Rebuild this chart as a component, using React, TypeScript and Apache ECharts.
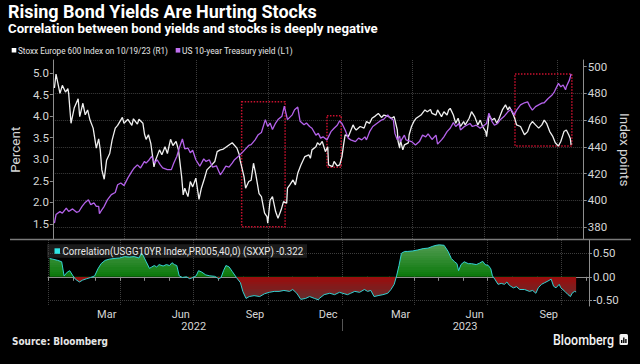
import React, { useEffect, useRef } from 'react';
import * as echarts from 'echarts';

// ---------- data ----------
const startDate = '2022-01-01';
const endDate = '2023-11-04';

const stoxx: [string, number][] = [
  ['2022-01-03', 484], ['2022-01-05', 494.5], ['2022-01-10', 480], ['2022-01-13', 486], ['2022-01-17', 481],
  ['2022-01-20', 483.5], ['2022-01-21', 480], ['2022-01-24', 457.6], ['2022-01-28', 469], ['2022-02-02', 476],
  ['2022-02-04', 462.6], ['2022-02-08', 472.6], ['2022-02-11', 464], ['2022-02-14', 467.6], ['2022-02-17', 460],
  ['2022-02-21', 454], ['2022-02-25', 439], ['2022-02-28', 446], ['2022-03-02', 437.7], ['2022-03-04', 422.7],
  ['2022-03-07', 415.7], ['2022-03-10', 430], ['2022-03-14', 435], ['2022-03-17', 445], ['2022-03-21', 454],
  ['2022-03-24', 456], ['2022-03-30', 462], ['2022-04-01', 457.6], ['2022-04-06', 460.6], ['2022-04-11', 456],
  ['2022-04-13', 461], ['2022-04-18', 457], ['2022-04-20', 460.6], ['2022-04-25', 457.6], ['2022-04-27', 449.6],
  ['2022-04-29', 445.6], ['2022-05-02', 449], ['2022-05-05', 442.6], ['2022-05-09', 425], ['2022-05-11', 430],
  ['2022-05-16', 437.7], ['2022-05-19', 434], ['2022-05-23', 440], ['2022-05-26', 435], ['2022-05-30', 445.6],
  ['2022-06-02', 441], ['2022-06-06', 444], ['2022-06-09', 437.7], ['2022-06-13', 417.7], ['2022-06-15', 404],
  ['2022-06-17', 409], ['2022-06-21', 402.7], ['2022-06-24', 414], ['2022-06-27', 410], ['2022-07-01', 416.5],
  ['2022-07-05', 400.7], ['2022-07-08', 409], ['2022-07-12', 416.5], ['2022-07-15', 422.7], ['2022-07-20', 425.7],
  ['2022-07-25', 429], ['2022-07-28', 436.4], ['2022-08-01', 437.7], ['2022-08-04', 438], ['2022-08-08', 439.7],
  ['2022-08-12', 441.4], ['2022-08-16', 443], ['2022-08-22', 439], ['2022-08-25', 434], ['2022-08-26', 430],
  ['2022-08-31', 417.7], ['2022-09-02', 409], ['2022-09-06', 414], ['2022-09-09', 415], ['2022-09-12', 427.7],
  ['2022-09-15', 419], ['2022-09-19', 405], ['2022-09-22', 402.7], ['2022-09-26', 390.3], ['2022-09-29', 387.8],
  ['2022-09-30', 382.8], ['2022-10-03', 400], ['2022-10-06', 402.7], ['2022-10-10', 391.5], ['2022-10-13', 386.5],
  ['2022-10-17', 392.8], ['2022-10-20', 399], ['2022-10-24', 397.8], ['2022-10-25', 409], ['2022-10-28', 411.5],
  ['2022-11-01', 415.2], ['2022-11-04', 411.5], ['2022-11-07', 420.2], ['2022-11-11', 426.4], ['2022-11-16', 432.7],
  ['2022-11-21', 434], ['2022-11-23', 431.4], ['2022-11-25', 437.7], ['2022-11-30', 440], ['2022-12-02', 443],
  ['2022-12-05', 441.4], ['2022-12-08', 444], ['2022-12-12', 436.4], ['2022-12-15', 440], ['2022-12-16', 426.4],
  ['2022-12-21', 425.2], ['2022-12-23', 429], ['2022-12-27', 425.7], ['2022-12-30', 426.4], ['2023-01-02', 432.7],
  ['2023-01-04', 441.4], ['2023-01-06', 449], ['2023-01-10', 447.6], ['2023-01-16', 456.4], ['2023-01-18', 454],
  ['2023-01-20', 452.6], ['2023-01-25', 455.2], ['2023-01-30', 454], ['2023-02-02', 458.9], ['2023-02-06', 457.6],
  ['2023-02-09', 461.4], ['2023-02-13', 463], ['2023-02-17', 465], ['2023-02-21', 462], ['2023-02-24', 463.8],
  ['2023-03-01', 463], ['2023-03-06', 461.4], ['2023-03-09', 462.6], ['2023-03-13', 452.6], ['2023-03-14', 444],
  ['2023-03-16', 439], ['2023-03-17', 445], ['2023-03-20', 437.7], ['2023-03-22', 441.4], ['2023-03-27', 443],
  ['2023-03-28', 449], ['2023-03-31', 455.2], ['2023-04-03', 459], ['2023-04-06', 461.4], ['2023-04-12', 463.8],
  ['2023-04-17', 467.6], ['2023-04-20', 466.3], ['2023-04-24', 468], ['2023-04-26', 465], ['2023-05-01', 463.8],
  ['2023-05-03', 467.6], ['2023-05-08', 462.6], ['2023-05-11', 466.3], ['2023-05-15', 463.8], ['2023-05-17', 467.6],
  ['2023-05-19', 468.8], ['2023-05-23', 463.8], ['2023-05-26', 457.6], ['2023-05-29', 461.4], ['2023-06-01', 455.2],
  ['2023-06-05', 458.9], ['2023-06-07', 456.4], ['2023-06-12', 461.4], ['2023-06-15', 466.3], ['2023-06-19', 462.6],
  ['2023-06-23', 456.4], ['2023-06-26', 460], ['2023-06-29', 455.2], ['2023-07-03', 451.4], ['2023-07-04', 447.6],
  ['2023-07-06', 456.4], ['2023-07-07', 463.8], ['2023-07-11', 460], ['2023-07-14', 461.4], ['2023-07-17', 457.6],
  ['2023-07-20', 461.4], ['2023-07-24', 467.6], ['2023-07-28', 471.4], ['2023-07-31', 467.6], ['2023-08-02', 470],
  ['2023-08-07', 463.8], ['2023-08-09', 460.6], ['2023-08-11', 456.4], ['2023-08-16', 455.2], ['2023-08-21', 449],
  ['2023-08-25', 451.4], ['2023-08-28', 456.4], ['2023-08-31', 458.9], ['2023-09-04', 456.4], ['2023-09-08', 454],
  ['2023-09-12', 456.4], ['2023-09-15', 460], ['2023-09-18', 457.6], ['2023-09-22', 451.4], ['2023-09-26', 447.6],
  ['2023-09-29', 443], ['2023-10-03', 440.6], ['2023-10-06', 444], ['2023-10-10', 451.4], ['2023-10-13', 452.6],
  ['2023-10-16', 449], ['2023-10-18', 446.3], ['2023-10-19', 441.4],
];

const usYield: [string, number][] = [
  ['2022-01-03', 1.52], ['2022-01-05', 1.72], ['2022-01-10', 1.79], ['2022-01-13', 1.75], ['2022-01-18', 1.87],
  ['2022-01-21', 1.79], ['2022-01-26', 1.85], ['2022-01-31', 1.77], ['2022-02-03', 1.79], ['2022-02-07', 1.91],
  ['2022-02-11', 2.0], ['2022-02-15', 2.06], ['2022-02-18', 1.95], ['2022-02-22', 1.99], ['2022-02-25', 1.91],
  ['2022-02-28', 1.91], ['2022-03-01', 1.74], ['2022-03-04', 1.83], ['2022-03-07', 1.91], ['2022-03-11', 2.06],
  ['2022-03-16', 2.18], ['2022-03-21', 2.23], ['2022-03-24', 2.41], ['2022-03-28', 2.45], ['2022-04-01', 2.39],
  ['2022-04-06', 2.57], ['2022-04-11', 2.72], ['2022-04-14', 2.8], ['2022-04-18', 2.87], ['2022-04-22', 2.8],
  ['2022-04-27', 2.95], ['2022-04-29', 2.91], ['2022-05-03', 2.99], ['2022-05-06', 3.07], ['2022-05-10', 2.91],
  ['2022-05-13', 2.99], ['2022-05-17', 2.87], ['2022-05-20', 2.8], ['2022-05-26', 2.76], ['2022-05-31', 2.76],
  ['2022-06-03', 2.91], ['2022-06-07', 3.07], ['2022-06-10', 3.26], ['2022-06-14', 3.47], ['2022-06-17', 3.24],
  ['2022-06-21', 3.26], ['2022-06-24', 3.15], ['2022-06-27', 3.21], ['2022-07-01', 2.99], ['2022-07-06', 2.84],
  ['2022-07-11', 3.01], ['2022-07-14', 2.95], ['2022-07-18', 2.99], ['2022-07-22', 2.82], ['2022-07-27', 2.85],
  ['2022-08-01', 2.64], ['2022-08-04', 2.72], ['2022-08-08', 2.84], ['2022-08-12', 2.82], ['2022-08-16', 2.91],
  ['2022-08-19', 2.99], ['2022-08-24', 3.07], ['2022-08-29', 3.16], ['2022-09-02', 3.24], ['2022-09-06', 3.32],
  ['2022-09-09', 3.34], ['2022-09-14', 3.45], ['2022-09-18', 3.57], ['2022-09-22', 3.62], ['2022-09-27', 3.92],
  ['2022-09-30', 3.76], ['2022-10-03', 3.84], ['2022-10-06', 3.69], ['2022-10-10', 3.84], ['2022-10-13', 3.92],
  ['2022-10-18', 4.0], ['2022-10-21', 4.23], ['2022-10-25', 3.92], ['2022-10-31', 4.03], ['2022-11-03', 4.15],
  ['2022-11-07', 4.21], ['2022-11-10', 3.88], ['2022-11-15', 3.8], ['2022-11-18', 3.84], ['2022-11-22', 3.76],
  ['2022-11-25', 3.72], ['2022-11-30', 3.56], ['2022-12-03', 3.6], ['2022-12-06', 3.49], ['2022-12-09', 3.52],
  ['2022-12-14', 3.45], ['2022-12-19', 3.64], ['2022-12-23', 3.72], ['2022-12-27', 3.79], ['2022-12-30', 3.89],
  ['2023-01-02', 3.83], ['2023-01-06', 3.68], ['2023-01-10', 3.49], ['2023-01-13', 3.45], ['2023-01-19', 3.41],
  ['2023-01-23', 3.49], ['2023-01-27', 3.45], ['2023-01-31', 3.52], ['2023-02-02', 3.45], ['2023-02-06', 3.64],
  ['2023-02-10', 3.76], ['2023-02-15', 3.83], ['2023-02-21', 3.91], ['2023-02-24', 3.93], ['2023-03-01', 4.03],
  ['2023-03-03', 3.97], ['2023-03-08', 3.91], ['2023-03-10', 3.6], ['2023-03-13', 3.45], ['2023-03-16', 3.54],
  ['2023-03-17', 3.41], ['2023-03-22', 3.56], ['2023-03-24', 3.45], ['2023-03-31', 3.41], ['2023-04-05', 3.33],
  ['2023-04-10', 3.41], ['2023-04-14', 3.56], ['2023-04-18', 3.52], ['2023-04-21', 3.59], ['2023-04-26', 3.46],
  ['2023-05-01', 3.56], ['2023-05-03', 3.35], ['2023-05-08', 3.45], ['2023-05-11', 3.52], ['2023-05-15', 3.64],
  ['2023-05-19', 3.72], ['2023-05-23', 3.85], ['2023-05-26', 3.76], ['2023-05-30', 3.83], ['2023-06-01', 3.68],
  ['2023-06-06', 3.76], ['2023-06-09', 3.79], ['2023-06-13', 3.83], ['2023-06-16', 3.76], ['2023-06-21', 3.79],
  ['2023-06-26', 3.72], ['2023-06-29', 3.76], ['2023-07-04', 3.83], ['2023-07-07', 4.07], ['2023-07-11', 3.87],
  ['2023-07-14', 3.79], ['2023-07-18', 3.83], ['2023-07-21', 3.91], ['2023-07-26', 3.99], ['2023-07-31', 4.1],
  ['2023-08-04', 4.16], ['2023-08-08', 4.03], ['2023-08-11', 4.14], ['2023-08-16', 4.26], ['2023-08-21', 4.31],
  ['2023-08-25', 4.33], ['2023-08-28', 4.22], ['2023-08-31', 4.14], ['2023-09-04', 4.22], ['2023-09-08', 4.26],
  ['2023-09-12', 4.3], ['2023-09-15', 4.31], ['2023-09-20', 4.41], ['2023-09-25', 4.49], ['2023-09-28', 4.57],
  ['2023-10-03', 4.76], ['2023-10-06', 4.68], ['2023-10-09', 4.72], ['2023-10-12', 4.61], ['2023-10-13', 4.68],
  ['2023-10-17', 4.84], ['2023-10-19', 4.98],
];

const correlation: [string, number][] = [
  ['2022-01-03', 0.39], ['2022-01-07', 0.375], ['2022-01-13', 0.35], ['2022-01-18', 0.32], ['2022-01-21', 0.02],
  ['2022-01-25', 0.1], ['2022-01-28', 0.13], ['2022-02-01', 0.02], ['2022-02-04', -0.05], ['2022-02-09', -0.11],
  ['2022-02-13', -0.07], ['2022-02-18', -0.04], ['2022-02-23', -0.015], ['2022-02-28', 0.02], ['2022-03-04', 0.17],
  ['2022-03-08', 0.28], ['2022-03-13', 0.35], ['2022-03-18', 0.375], ['2022-03-24', 0.39], ['2022-03-31', 0.4],
  ['2022-04-06', 0.43], ['2022-04-12', 0.42], ['2022-04-18', 0.43], ['2022-04-24', 0.4], ['2022-04-27', 0.5],
  ['2022-04-29', 0.46], ['2022-05-03', 0.32], ['2022-05-07', 0.18], ['2022-05-10', 0.21], ['2022-05-13', 0.24],
  ['2022-05-16', 0.21], ['2022-05-19', 0.26], ['2022-05-24', 0.23], ['2022-05-28', 0.26], ['2022-06-01', 0.24],
  ['2022-06-04', 0.3], ['2022-06-07', 0.26], ['2022-06-10', 0.24], ['2022-06-13', 0.02], ['2022-06-17', -0.015],
  ['2022-06-22', 0.0], ['2022-06-26', -0.04], ['2022-06-30', -0.015], ['2022-07-04', 0.02], ['2022-07-07', 0.13],
  ['2022-07-11', 0.1], ['2022-07-16', 0.04], ['2022-07-21', 0.02], ['2022-07-27', 0.01], ['2022-08-01', -0.04],
  ['2022-08-04', -0.015], ['2022-08-07', 0.13], ['2022-08-10', 0.24], ['2022-08-14', 0.21], ['2022-08-18', 0.11],
  ['2022-08-23', -0.015], ['2022-08-28', -0.125], ['2022-08-31', -0.31], ['2022-09-04', -0.46], ['2022-09-08', -0.42],
  ['2022-09-14', -0.4], ['2022-09-21', -0.42], ['2022-09-27', -0.36], ['2022-10-03', -0.33], ['2022-10-09', -0.31],
  ['2022-10-15', -0.31], ['2022-10-21', -0.29], ['2022-10-28', -0.31], ['2022-11-01', -0.27], ['2022-11-06', -0.35],
  ['2022-11-11', -0.48], ['2022-11-17', -0.46], ['2022-11-22', -0.42], ['2022-11-28', -0.46], ['2022-12-03', -0.49],
  ['2022-12-04', -0.46], ['2022-12-10', -0.38], ['2022-12-17', -0.35], ['2022-12-23', -0.38], ['2022-12-29', -0.33],
  ['2023-01-04', -0.36], ['2023-01-08', -0.38], ['2023-01-12', -0.35], ['2023-01-17', -0.31], ['2023-01-23', -0.33],
  ['2023-01-29', -0.27], ['2023-02-02', -0.31], ['2023-02-06', -0.29], ['2023-02-10', -0.42], ['2023-02-15', -0.4],
  ['2023-02-21', -0.38], ['2023-02-27', -0.35], ['2023-03-03', -0.27], ['2023-03-07', -0.16], ['2023-03-10', 0.02],
  ['2023-03-13', 0.24], ['2023-03-16', 0.5], ['2023-03-20', 0.54], ['2023-03-24', 0.54], ['2023-03-30', 0.55],
  ['2023-04-05', 0.57], ['2023-04-12', 0.6], ['2023-04-18', 0.61], ['2023-04-24', 0.65], ['2023-04-28', 0.67],
  ['2023-05-02', 0.68], ['2023-05-08', 0.67], ['2023-05-13', 0.54], ['2023-05-17', 0.39], ['2023-05-21', 0.32],
  ['2023-05-24', 0.28], ['2023-05-26', 0.13], ['2023-05-29', 0.26], ['2023-06-02', 0.32], ['2023-06-07', 0.28],
  ['2023-06-11', 0.28], ['2023-06-17', 0.26], ['2023-06-21', 0.29], ['2023-06-25', 0.33], ['2023-06-28', 0.26],
  ['2023-07-02', 0.24], ['2023-07-05', 0.17], ['2023-07-07', 0.02], ['2023-07-10', -0.05], ['2023-07-14', -0.16],
  ['2023-07-18', -0.14], ['2023-07-22', -0.16], ['2023-07-25', -0.11], ['2023-07-28', -0.18], ['2023-08-02', -0.235],
  ['2023-08-06', -0.21], ['2023-08-10', -0.27], ['2023-08-16', -0.27], ['2023-08-22', -0.31], ['2023-08-26', -0.29],
  ['2023-08-30', -0.35], ['2023-09-02', -0.235], ['2023-09-06', -0.16], ['2023-09-10', -0.125], ['2023-09-14', -0.09],
  ['2023-09-18', -0.05], ['2023-09-21', -0.2], ['2023-09-24', -0.235], ['2023-09-28', -0.16], ['2023-09-30', -0.235],
  ['2023-10-05', -0.31], ['2023-10-09', -0.38], ['2023-10-12', -0.42], ['2023-10-14', -0.35], ['2023-10-17', -0.31],
  ['2023-10-19', -0.322],
];

const yieldTicks = [1.5, 2.0, 2.5, 3.0, 3.5, 4.0, 4.5, 5.0];
const indexTicks = [380, 400, 420, 440, 460, 480, 500];
const corrTicks = [-0.5, 0, 0.5];
const monthLabels: Record<string, string> = {
  '2022-03-15': 'Mar', '2022-06-15': 'Jun', '2022-09-15': 'Sep', '2022-12-15': 'Dec',
  '2023-03-15': 'Mar', '2023-06-15': 'Jun', '2023-09-15': 'Sep',
};
const yearLabels: Record<string, string> = { '2022-07-01': '2022', '2023-06-03': '2023' };
const yearBreak = '2023-01-01';

// highlighted windows (dates, index points)
const highlightBoxes: [string, number, string, number][] = [
  ['2022-08-28', 473.8, '2022-10-22', 380.2],
  ['2022-12-14', 463.3, '2023-01-01', 424.7],
  ['2023-08-09', 494.5, '2023-10-20', 440.6],
];

const legendStoxx = 'Stoxx Europe 600 Index on 10/19/23 (R1)';
const legendYield = 'US 10-year Treasury yield (L1)';
const legendCorr = 'Correlation(USGG10YR Index,PR005,40,0) (SXXP) -0.322';

// ---------- helpers ----------
function buildDays(from: string, to: string): string[] {
  const out: string[] = [];
  const a = Date.parse(from + 'T00:00:00Z');
  const b = Date.parse(to + 'T00:00:00Z');
  for (let t = a; t <= b; t += 86400000) out.push(new Date(t).toISOString().slice(0, 10));
  return out;
}
const days = buildDays(startDate, endDate);
const isQuarterStart = (v: string) => /-(01|04|07|10)-01$/.test(v);

let measureCtx: CanvasRenderingContext2D | null = null;
function measure(text: string, font: string): number {
  if (!measureCtx) measureCtx = document.createElement('canvas').getContext('2d');
  if (!measureCtx) return text.length * 6;
  measureCtx.font = font;
  return measureCtx.measureText(text).width;
}
function fitText(text: string, x: number, y: number, width: number, size: number, weight: string, color: string, family: string) {
  const w = measure(text, `${weight} ${size}px ${family}`);
  return {
    type: 'text', x, y, scaleX: width / w, z: 100,
    style: { text, fill: color, fontSize: size, fontWeight: weight, fontFamily: family, align: 'left', verticalAlign: 'middle' },
  };
}
function hex(c: string) { return [1, 3, 5].map((i) => parseInt(c.slice(i, i + 2), 16)); }
function mix(a: string, b: string, t: number) {
  const A = hex(a), B = hex(b);
  return 'rgb(' + A.map((v, i) => Math.round(v + (B[i] - v) * t)).join(',') + ')';
}
function buildPieces() {
  const pieces: any[] = [];
  const step = 0.05;
  for (let k = 0; k < 18; k++) {
    const lo = k * step;
    const t = Math.min(1, (lo + step / 2) / 0.65);
    pieces.push(k === 17 ? { gt: lo, color: mix('#0a780a', '#4e9a4e', t) } : { gt: lo, lte: lo + step, color: mix('#0a780a', '#4e9a4e', t) });
    const hi = -k * step;
    const tr = Math.min(1, (k * step + step / 2) / 0.5);
    pieces.push(k === 17 ? { lte: hi, color: mix('#9c0c0c', '#5e3030', tr) } : { gt: hi - step, lte: hi, color: mix('#9c0c0c', '#5e3030', tr) });
  }
  return pieces;
}

const FONT = 'Roboto';
const axisGrey = '#8e8e8e';
const gridGrey = '#3d3d3d';
const labelColor = '#d6d6d6';

export default function App() {
  const ref = useRef<HTMLDivElement>(null);
  useEffect(() => {
    if (!ref.current) return;
    const chart = echarts.init(ref.current, undefined, { renderer: 'svg' });
    const option: any = {
      animation: false,
      backgroundColor: '#000000',
      textStyle: { fontFamily: FONT },
      grid: [
        { left: 48, right: 51, top: 60, height: 179.5 },
        { left: 48, right: 51, top: 240, height: 66 },
      ],
      xAxis: [
        {
          type: 'category', gridIndex: 0, data: days, boundaryGap: false,
          axisLine: { show: false }, axisTick: { show: false }, axisLabel: { show: false },
          splitLine: { show: true, interval: (_i: number, v: string) => isQuarterStart(v), lineStyle: { color: gridGrey, type: 'dotted', width: 1 } },
        },
        {
          type: 'category', gridIndex: 1, data: days, boundaryGap: false,
          axisLine: { show: true, lineStyle: { color: axisGrey, width: 1 } },
          axisTick: { show: true, interval: (_i: number, v: string) => v.endsWith('-01'), length: 4, lineStyle: { color: axisGrey } },
          axisLabel: { interval: (_i: number, v: string) => v in monthLabels, formatter: (v: string) => monthLabels[v] || '', color: labelColor, fontSize: 11, margin: 3 },
          splitLine: { show: true, interval: (_i: number, v: string) => isQuarterStart(v), lineStyle: { color: gridGrey, type: 'dotted', width: 1 } },
        },
        {
          type: 'category', gridIndex: 1, data: days, boundaryGap: false, position: 'bottom', offset: 13,
          axisLine: { show: false },
          axisTick: { show: true, interval: (_i: number, v: string) => v === yearBreak, length: 12, lineStyle: { color: '#555555' } },
          axisLabel: { interval: (_i: number, v: string) => v in yearLabels, formatter: (v: string) => yearLabels[v] || '', color: labelColor, fontSize: 11, margin: 2 },
          splitLine: { show: false },
        },
      ],
      yAxis: [
        {
          type: 'value', gridIndex: 0, position: 'left', min: 1.141, max: 5.301,
          axisLine: { show: true, lineStyle: { color: axisGrey } },
          axisTick: { show: true, customValues: yieldTicks, length: 3, lineStyle: { color: axisGrey } },
          axisLabel: { customValues: yieldTicks, formatter: (v: number) => v.toFixed(1), color: labelColor, fontSize: 11.5, margin: 4 },
          splitLine: { show: false },
          name: 'Percent', nameLocation: 'middle', nameRotate: 90, nameGap: 24,
          nameTextStyle: { color: labelColor, fontSize: 13.5 },
        },
        {
          type: 'value', gridIndex: 0, position: 'right', min: 370.6, max: 505,
          axisLine: { show: true, lineStyle: { color: axisGrey } },
          axisTick: { show: true, customValues: indexTicks, length: 3, lineStyle: { color: axisGrey } },
          axisLabel: { customValues: indexTicks, formatter: (v: number) => String(v), color: labelColor, fontSize: 11.5, margin: 4 },
          splitLine: { show: true, lineStyle: { color: [gridGrey, gridGrey, gridGrey, gridGrey, gridGrey, gridGrey, 'rgba(0,0,0,0)'], type: 'dotted' } },
          name: 'Index points', nameLocation: 'middle', nameRotate: -90, nameGap: 28,
          nameTextStyle: { color: labelColor, fontSize: 13.5 },
        },
        {
          type: 'value', gridIndex: 1, position: 'right', min: -0.621, max: 0.783,
          axisLine: { show: true, lineStyle: { color: axisGrey } },
          axisTick: { show: true, customValues: corrTicks, length: 3, lineStyle: { color: axisGrey } },
          axisLabel: { customValues: corrTicks, formatter: (v: number) => v.toFixed(2), color: labelColor, fontSize: 11.5, margin: 4 },
          splitLine: { show: true, lineStyle: { color: gridGrey, type: 'dotted' } },
        },
      ],
      visualMap: { show: false, type: 'piecewise', seriesIndex: 2, dimension: 1, pieces: buildPieces() },
      series: [
        {
          type: 'line', name: legendStoxx, xAxisIndex: 0, yAxisIndex: 1, data: stoxx, symbol: 'none',
          lineStyle: { color: '#f0f0f0', width: 1.3 },
          markArea: {
            silent: true,
            itemStyle: { color: 'rgba(0,0,0,0)', borderColor: '#c8102e', borderWidth: 1.5, borderType: 'dotted' },
            data: highlightBoxes.map(([d1, v1, d2, v2]) => [{ xAxis: d1, yAxis: v1 }, { xAxis: d2, yAxis: v2 }]),
          },
        },
        {
          type: 'line', name: legendYield, xAxisIndex: 0, yAxisIndex: 0, data: usYield, symbol: 'none',
          lineStyle: { color: '#b462ea', width: 1.3 },
        },
        {
          type: 'line', name: 'Correlation', xAxisIndex: 1, yAxisIndex: 2, data: correlation, symbol: 'none',
          lineStyle: { color: '#33d2d2', width: 1 }, areaStyle: { opacity: 1 },
        },
      ],
      graphic: [
        { type: 'rect', z: 0, shape: { x: 47, y: 244.3, width: 260, height: 13.5 }, style: { fill: '#1b1b1b' } },
        { type: 'rect', z: 100, shape: { x: 54.5, y: 248.3, width: 5.5, height: 5.5 }, style: { fill: '#2ee6e6' } },
        fitText(legendCorr, 62.5, 251.2, 241, 10.5, 'normal', '#e6e6e6', FONT),
        { type: 'line', z: 100, shape: { x1: 10, y1: 239.5, x2: 631, y2: 239.5 }, style: { stroke: '#7a7a7a', lineWidth: 1.5 } },
        fitText('Rising Bond Yields Are Hurting Stocks', 8, 11.7, 309, 19, 'bold', '#ffffff', FONT),
        fitText('Correlation between bond yields and stocks is deeply negative', 8, 28.7, 370, 13.5, 'bold', '#ffffff', FONT),
        { type: 'rect', z: 100, shape: { x: 11.7, y: 48, width: 4.6, height: 4.6 }, style: { fill: '#ffffff' } },
        fitText(legendStoxx, 18, 50.5, 150, 9.5, 'normal', '#e6e6e6', FONT),
        { type: 'rect', z: 100, shape: { x: 175.7, y: 48, width: 4.6, height: 4.6 }, style: { fill: '#c070f0' } },
        fitText(legendYield, 182, 50.5, 111, 9.5, 'normal', '#e6e6e6', FONT),
        fitText('Source: Bloomberg', 12, 341, 96, 10, 'bold', '#e6e6e6', 'DejaVu Sans'),
        fitText('Bloomberg', 553, 340, 61, 14, '500', '#f2f2f2', FONT),
        { type: 'rect', z: 100, shape: { x: 619.5, y: 334, width: 8.5, height: 11, r: 1.5 }, style: { fill: '#f2f2f2' } },
        { type: 'rect', z: 101, shape: { x: 621, y: 340, width: 1.4, height: 3 }, style: { fill: '#000' } },
        { type: 'rect', z: 101, shape: { x: 623.1, y: 337.5, width: 1.4, height: 5.5 }, style: { fill: '#000' } },
        { type: 'rect', z: 101, shape: { x: 625.2, y: 339, width: 1.4, height: 4 }, style: { fill: '#000' } },
      ],
    };
    chart.setOption(option);
    return () => chart.dispose();
  }, []);
  return (
    <div
      ref={ref}
      style={{ position: 'fixed', left: 0, top: 0, width: 640, height: 364, background: '#000' }}
    />
  );
}
